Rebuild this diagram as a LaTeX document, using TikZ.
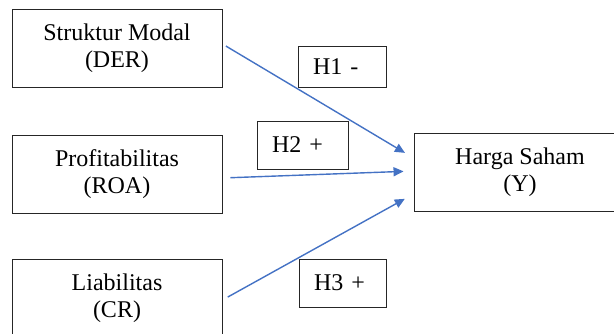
\documentclass[tikz,border=0pt]{standalone}
\usepackage{fontspec}
\setmainfont{Liberation Serif}
\usepackage{tikz}
\usetikzlibrary{arrows.meta,positioning}
\definecolor{panah}{HTML}{4472C4}

\begin{document}
\begin{tikzpicture}[
    x=1pt,y=1pt,
    variabel/.style={rectangle,draw=black!85,line width=0.9pt,minimum height=78pt,align=center,font=\fontsize{24}{27}\selectfont,inner sep=0pt},
    hipotesis/.style={rectangle,draw=black!85,line width=0.9pt,inner xsep=15pt,inner ysep=0pt,align=left,font=\fontsize{24}{27}\selectfont},
    arrow/.style={-{Triangle[length=10pt,width=9pt]},draw=panah,line width=1.4pt}
]
\useasboundingbox (0,0) rectangle (614,333);

% Variabel
\node[variabel,minimum width=210pt] (der) at (117,285) {Struktur Modal\\(DER)};
\node[variabel,minimum width=210pt] (roa) at (117,159) {Profitabilitas\\(ROA)};
\node[variabel,minimum width=210pt] (cr) at (117,35) {Liabilitas\\(CR)};
\node[variabel,minimum width=212pt] (harga) at (520,161) {Harga Saham\\(Y)};

% Hipotesis
\node[hipotesis,text width=58pt,minimum height=41pt] (h1) at (342,266.5) {H1 -};
\node[hipotesis,text width=61pt,minimum height=48pt] (h2) at (302.5,188) {H2 +};
\node[hipotesis,text width=57pt,minimum height=48pt] (h3) at (342.5,50) {H3 +};

% Arrows
\draw[arrow,shorten <=4pt,shorten >=10pt] ([yshift=4pt]der.east) -- ([yshift=14pt]harga.west);
\draw[arrow,shorten <=8pt,shorten >=10pt] ([yshift=-4pt]roa.east) -- ([yshift=1pt]harga.west);
\draw[arrow,shorten <=6pt,shorten >=10pt] ([yshift=-2pt]cr.east) -- ([yshift=-22pt]harga.west);

\end{tikzpicture}
\end{document}
